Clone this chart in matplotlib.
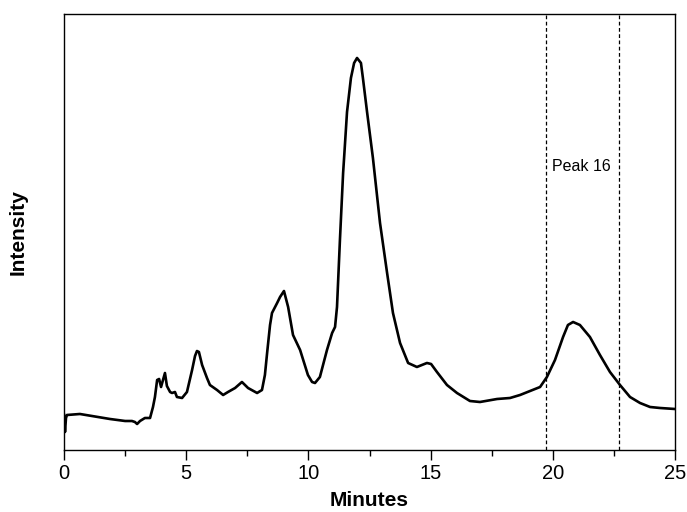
import matplotlib
matplotlib.use('Agg')
import matplotlib.pyplot as plt
from matplotlib.ticker import MultipleLocator

# Chromatogram trace (minutes, relative intensity)
minutes = [0.00, 0.04, 0.08, 0.12, 0.65, 1.88, 2.50, 2.78, 2.90, 2.99, 3.11, 3.31,
           3.52, 3.64, 3.72, 3.81, 3.89, 3.97, 4.05, 4.13, 4.21, 4.34, 4.42, 4.54,
           4.62, 4.83, 5.03, 5.24, 5.36, 5.44, 5.52, 5.65, 5.85, 5.97, 6.26, 6.51,
           6.71, 7.00, 7.28, 7.53, 7.90, 8.10, 8.22, 8.31, 8.43, 8.51, 8.72, 8.84,
           9.00, 9.17, 9.37, 9.66, 9.98, 10.15, 10.27, 10.47, 10.76, 10.97, 11.09,
           11.17, 11.29, 11.42, 11.46, 11.58, 11.74, 11.87, 11.99, 12.15, 12.23,
           12.40, 12.64, 12.93, 13.22, 13.46, 13.75, 14.08, 14.44, 14.85, 15.02,
           15.26, 15.67, 16.08, 16.61, 17.02, 17.72, 18.25, 18.66, 19.07, 19.48,
           19.76, 20.09, 20.42, 20.62, 20.83, 21.11, 21.52, 21.93, 22.34, 22.75,
           23.16, 23.57, 23.98, 24.39, 25.00]
intensity = [36, 18, 32, 35, 36, 31, 29, 29, 28, 26, 29, 32,
             32, 43, 53, 70, 71, 63, 70, 77, 64, 58, 57, 58,
             53, 52, 58, 80, 94, 99, 98, 85, 72, 65, 60, 55,
             58, 62, 68, 62, 57, 60, 75, 97, 125, 137, 147, 153,
             159, 143, 115, 100, 75, 68, 67, 73, 100, 117, 123,
             143, 210, 277, 292, 338, 372, 387, 392, 387, 372,
             338, 292, 227, 177, 137, 107, 87, 83, 87, 86,
             78, 65, 57, 49, 48, 51, 52, 55, 59, 63,
             73, 90, 113, 125, 128, 125, 113, 95, 78, 65,
             53, 47, 43, 42, 41]

peak_window = [19.72, 22.72]
peak_label = "Peak 16"

plt.rcParams['font.family'] = ['Liberation Sans', 'DejaVu Sans']

fig = plt.figure(figsize=(6.87, 5.12), dpi=100)
ax = fig.add_axes([0.0932, 0.1211, 0.8893, 0.8516])

ax.plot(minutes, intensity, color='black', linewidth=1.9,
        solid_joinstyle='round', solid_capstyle='round')

for x in peak_window:
    ax.axvline(x, color='black', linewidth=0.9, linestyle=(0, (3, 2)))

ax.text(peak_window[0] + 0.25, 283, peak_label, fontsize=11.5, ha='left', va='center')

ax.set_xlim(0, 25)
ax.set_ylim(0, 436)
ax.xaxis.set_major_locator(MultipleLocator(5))
ax.xaxis.set_minor_locator(MultipleLocator(2.5))
ax.set_yticks([])
ax.tick_params(axis='x', which='major', length=7, width=1, labelsize=14.5, pad=3)
ax.tick_params(axis='x', which='minor', length=4, width=1)

for s in ax.spines.values():
    s.set_linewidth(1)

ax.set_xlabel("Minutes", fontsize=15, fontweight='bold', labelpad=6)
ax.set_ylabel("Intensity", fontsize=15, fontweight='bold', labelpad=26)

fig.savefig("out.png", dpi=100)
plt.close(fig)
